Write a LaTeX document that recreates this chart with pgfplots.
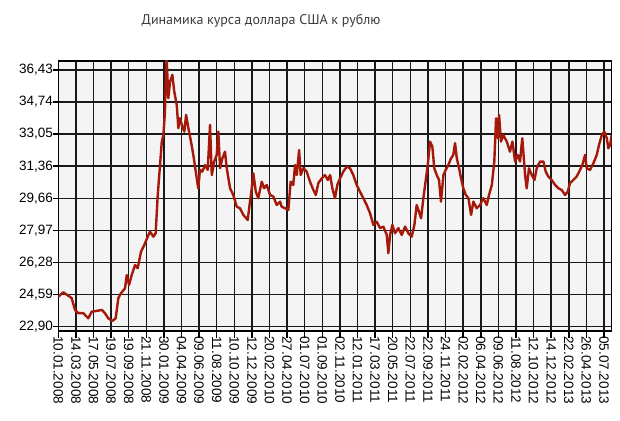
\documentclass[border=0pt]{standalone}
\usepackage{fontspec}
\setmainfont{Liberation Sans}
\newfontfamily\titlefont{PT Sans}
\usepackage{pgfplots}
\pgfplotsset{compat=1.18}
\definecolor{rate}{RGB}{165,25,10}
\definecolor{plotbg}{RGB}{244,244,244}
\definecolor{titlegray}{RGB}{60,60,60}

\begin{document}
\begin{tikzpicture}
\useasboundingbox (0,0) rectangle (620pt,420pt);
\node[font=\titlefont\fontsize{14}{16}\selectfont, text=titlegray] at (261pt,399pt) {Динамика курса доллара США к рублю};
\begin{axis}[
    at={(58.3pt,89pt)}, anchor=south west,
    scale only axis, width=553.4pt, height=270pt,
    xmin=0, xmax=31.44, ymin=22.67, ymax=36.90,
    axis background/.style={fill=plotbg},
    axis line style={black, line width=1.5pt},
    grid=major, major grid style={black!90, line width=1.5pt},
    tick align=outside, tick style={black, line width=1.5pt},
    xtick pos=bottom, ytick pos=left,
    xtick style={/pgfplots/major tick length=7pt},
    ytick style={/pgfplots/major tick length=5pt},
    xtick={0,...,31},
    xticklabels={10.01.2008,14.03.2008,17.05.2008,19.07.2008,19.09.2008,21.11.2008,30.01.2009,04.04.2009,09.06.2009,11.08.2009,10.10.2009,12.12.2009,20.02.2010,27.04.2010,01.07.2010,01.09.2010,02.11.2010,12.01.2011,17.03.2011,20.05.2011,22.07.2011,22.09.2011,24.11.2011,02.02.2012,06.04.2012,09.06.2012,11.08.2012,12.10.2012,14.12.2012,22.02.2013,26.04.2013,05.07.2013},
    ytick={22.90,24.591,26.283,27.974,29.665,31.356,33.048,34.739,36.43},
    yticklabels={{22,90},{24,59},{26,28},{27,97},{29,66},{31,36},{33,05},{34,74},{36,43}},
    xticklabel style={rotate=-90, anchor=west, font=\fontsize{13.5}{15}\selectfont, inner sep=1pt},
    yticklabel style={font=\fontsize{13.5}{15}\selectfont, inner sep=1pt},
]
\addplot[rate, line width=2.4pt, line join=round] coordinates {
(0.00,24.48) (0.28,24.71) (0.57,24.53) (0.76,24.40) (0.95,23.78) (1.14,23.61) (1.42,23.61) (1.70,23.34)
(1.90,23.69) (2.18,23.73) (2.47,23.78) (2.65,23.61) (2.84,23.34) (3.07,23.20) (3.26,23.34) (3.41,24.40)
(3.56,24.66) (3.79,24.92) (3.89,25.62) (4.02,25.10) (4.17,25.62) (4.36,26.15) (4.51,25.98) (4.70,26.85)
(4.89,27.21) (5.08,27.64) (5.21,27.91) (5.40,27.64) (5.53,27.82) (5.65,29.84) (5.78,31.42) (5.88,32.65)
(5.97,33.00) (6.06,34.23) (6.12,36.52) (6.16,36.96) (6.25,34.94) (6.35,35.81) (6.48,36.17) (6.59,35.28)
(6.73,34.58) (6.82,33.36) (6.91,33.88) (7.05,33.44) (7.16,33.18) (7.26,34.06) (7.39,33.36) (7.54,32.65)
(7.67,31.95) (7.81,31.07) (7.95,30.19) (8.05,31.16) (8.18,31.07) (8.34,31.42) (8.49,31.16) (8.62,33.53)
(8.72,30.89) (8.86,31.60) (9.00,31.95) (9.09,33.18) (9.19,31.25) (9.32,31.77) (9.47,32.12) (9.57,31.25)
(9.76,30.19) (9.94,29.84) (10.14,29.22) (10.32,29.14) (10.51,28.79) (10.76,28.52) (10.89,29.49) (10.99,30.19)
(11.08,30.98) (11.22,30.01) (11.36,29.67) (11.56,30.54) (11.69,30.19) (11.84,30.37) (12.03,29.84) (12.22,29.75)
(12.41,29.31) (12.60,29.49) (12.69,29.22) (12.88,29.14) (13.07,29.05) (13.20,30.54) (13.35,30.37) (13.45,31.42)
(13.55,30.89) (13.68,32.21) (13.77,30.89) (13.92,31.25) (14.11,31.07) (14.30,30.54) (14.49,30.10) (14.63,29.84)
(14.77,30.46) (14.97,30.72) (15.15,30.89) (15.31,30.63) (15.44,30.89) (15.57,30.19) (15.72,29.67) (15.85,30.37)
(16.01,30.72) (16.19,31.07) (16.39,31.33) (16.57,31.25) (16.76,30.89) (16.95,30.37) (17.14,30.01) (17.33,29.67)
(17.52,29.31) (17.71,28.88) (17.90,28.26) (18.09,28.43) (18.28,28.09) (18.47,28.17) (18.66,27.73) (18.75,26.77)
(18.85,27.73) (18.98,28.26) (19.13,27.82) (19.32,28.09) (19.51,27.73) (19.70,28.17) (19.89,27.82) (20.08,27.64)
(20.23,28.26) (20.36,29.31) (20.49,28.96) (20.61,28.61) (20.74,29.67) (20.84,30.37) (20.99,31.42) (21.12,32.65)
(21.25,32.39) (21.36,31.25) (21.50,30.89) (21.63,30.63) (21.74,29.49) (21.88,30.89) (22.01,31.16) (22.16,31.42)
(22.31,31.77) (22.44,31.95) (22.54,32.57) (22.64,31.77) (22.77,31.25) (22.88,30.72) (23.01,30.19) (23.15,29.84)
(23.30,29.67) (23.45,28.79) (23.58,29.49) (23.77,29.14) (23.96,29.31) (24.15,29.67) (24.34,29.31) (24.47,29.84)
(24.63,30.37) (24.77,31.60) (24.87,33.88) (24.97,32.83) (25.04,34.06) (25.15,32.65) (25.28,33.00) (25.48,32.65)
(25.66,32.12) (25.80,32.65) (25.95,31.60) (26.10,31.95) (26.23,31.60) (26.36,32.83) (26.52,30.89) (26.61,30.19)
(26.74,31.25) (26.90,30.89) (27.05,30.63) (27.18,31.25) (27.37,31.60) (27.56,31.60) (27.69,31.07) (27.84,30.81)
(28.03,30.63) (28.22,30.37) (28.41,30.19) (28.60,30.10) (28.79,29.84) (28.94,30.01) (29.07,30.46) (29.26,30.63)
(29.45,30.81) (29.64,31.16) (29.77,31.42) (29.93,31.95) (30.02,31.25) (30.21,31.16) (30.40,31.51) (30.59,31.95)
(30.72,32.48) (30.88,33.00) (31.02,33.18) (31.16,32.83) (31.25,32.30) (31.35,32.48) (31.44,33.00)
};
\draw[black, line width=1.5pt] (rel axis cs:0,1) -- ++(-48.3pt,0pt);
\end{axis}
\end{tikzpicture}
\end{document}
